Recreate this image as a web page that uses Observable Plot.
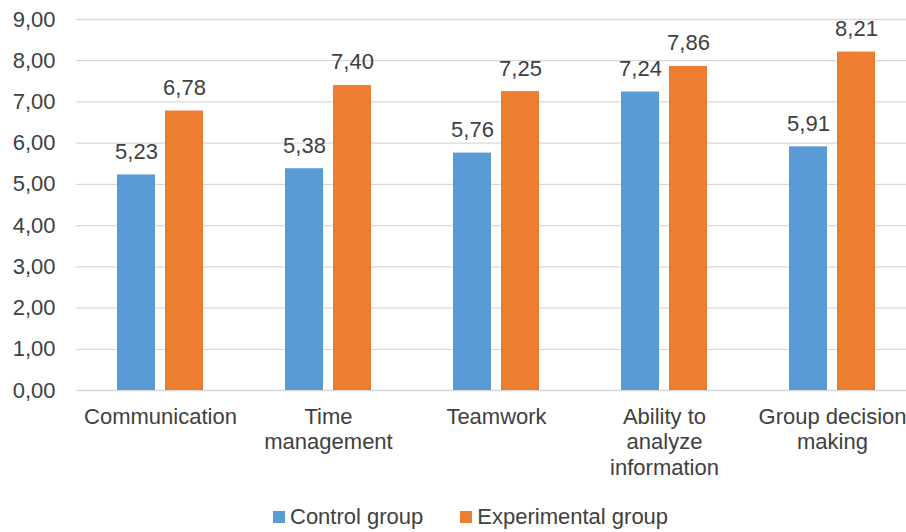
<!DOCTYPE html>
<html>
<head>
<meta charset="utf-8">
<script src="https://cdn.jsdelivr.net/npm/d3@7"></script>
<script src="https://cdn.jsdelivr.net/npm/@observablehq/plot@0.6"></script>
<style>
  html, body { margin: 0; padding: 0; background: #fff; overflow: hidden; width: 906px; height: 532px; }
  #chart { position: relative; width: 906px; height: 532px; overflow: hidden; }
  #chart svg { max-width: none !important; }
  #legend { position: absolute; left: 273px; top: 506px; display: flex; align-items: center;
    font-family: "Liberation Sans", Arial, sans-serif; font-size: 22px; color: #404040; line-height: 1; }
  .item { display: flex; align-items: center; margin-right: 37px; }
  .sw { width: 12px; height: 12px; margin-right: 5px; }
</style>
</head>
<body>
<div id="chart"></div>
<script>
const categories = ["Communication", "Time management", "Teamwork", "Ability to analyze information", "Group decision making"];
const categoryLabels = ["Communication", "Time\nmanagement", "Teamwork", "Ability to\nanalyze\ninformation", "Group decision\nmaking"];
const series = ["Control group", "Experimental group"];
const controlValues = [5.23, 5.38, 5.76, 7.24, 5.91];
const experimentalValues = [6.78, 7.40, 7.25, 7.86, 8.21];
const yTicks = [0, 1, 2, 3, 4, 5, 6, 7, 8, 9];
const colors = ["#5B9BD5", "#ED7D31"];

const data = [];
categories.forEach((c, i) => {
  data.push({category: c, series: series[0], value: controlValues[i]});
  data.push({category: c, series: series[1], value: experimentalValues[i]});
});
const labelOf = new Map(categories.map((c, i) => [c, categoryLabels[i]]));
const comma = v => d3.format(".2f")(v).replace(".", ",");

const plot = Plot.plot({
  width: 916,
  height: 490,
  marginLeft: 75,
  marginRight: 0,
  marginTop: 19,
  marginBottom: 100,
  style: {fontFamily: "Liberation Sans, Arial, sans-serif", fontSize: "22px", color: "#404040", background: "#fff", maxWidth: "none"},
  fx: {domain: categories, padding: 0},
  x: {domain: series, paddingInner: 0.208, paddingOuter: 0.854, axis: null},
  y: {domain: [0, 9], axis: null},
  color: {domain: series, range: colors},
  marks: [
    Plot.gridY(yTicks, {stroke: "#d9d9d9", strokeOpacity: 1, strokeWidth: 1.3}),
    Plot.axisY(yTicks, {tickSize: 0, tickPadding: 21, tickFormat: comma, fontSize: 22, fill: "#404040", label: null}),
    Plot.axisFx({anchor: "bottom", tickSize: 0, tickPadding: 15, tickFormat: d => labelOf.get(d), fontSize: 22, lineHeight: 1.16, fill: "#404040", label: null}),
    Plot.barY(data, {fx: "category", x: "series", y: "value", fill: "series"}),
    Plot.text(data, {fx: "category", x: "series", y: "value", text: d => comma(d.value), dy: -16, lineAnchor: "bottom", fontSize: 22, fill: "#404040"})
  ]
});
document.getElementById("chart").appendChild(plot);

const legend = d3.select("#chart").append("div").attr("id", "legend");
series.forEach((s, i) => {
  const item = legend.append("div").attr("class", "item");
  item.append("div").attr("class", "sw").style("background", colors[i]);
  item.append("span").text(s);
});
</script>
</body>
</html>
